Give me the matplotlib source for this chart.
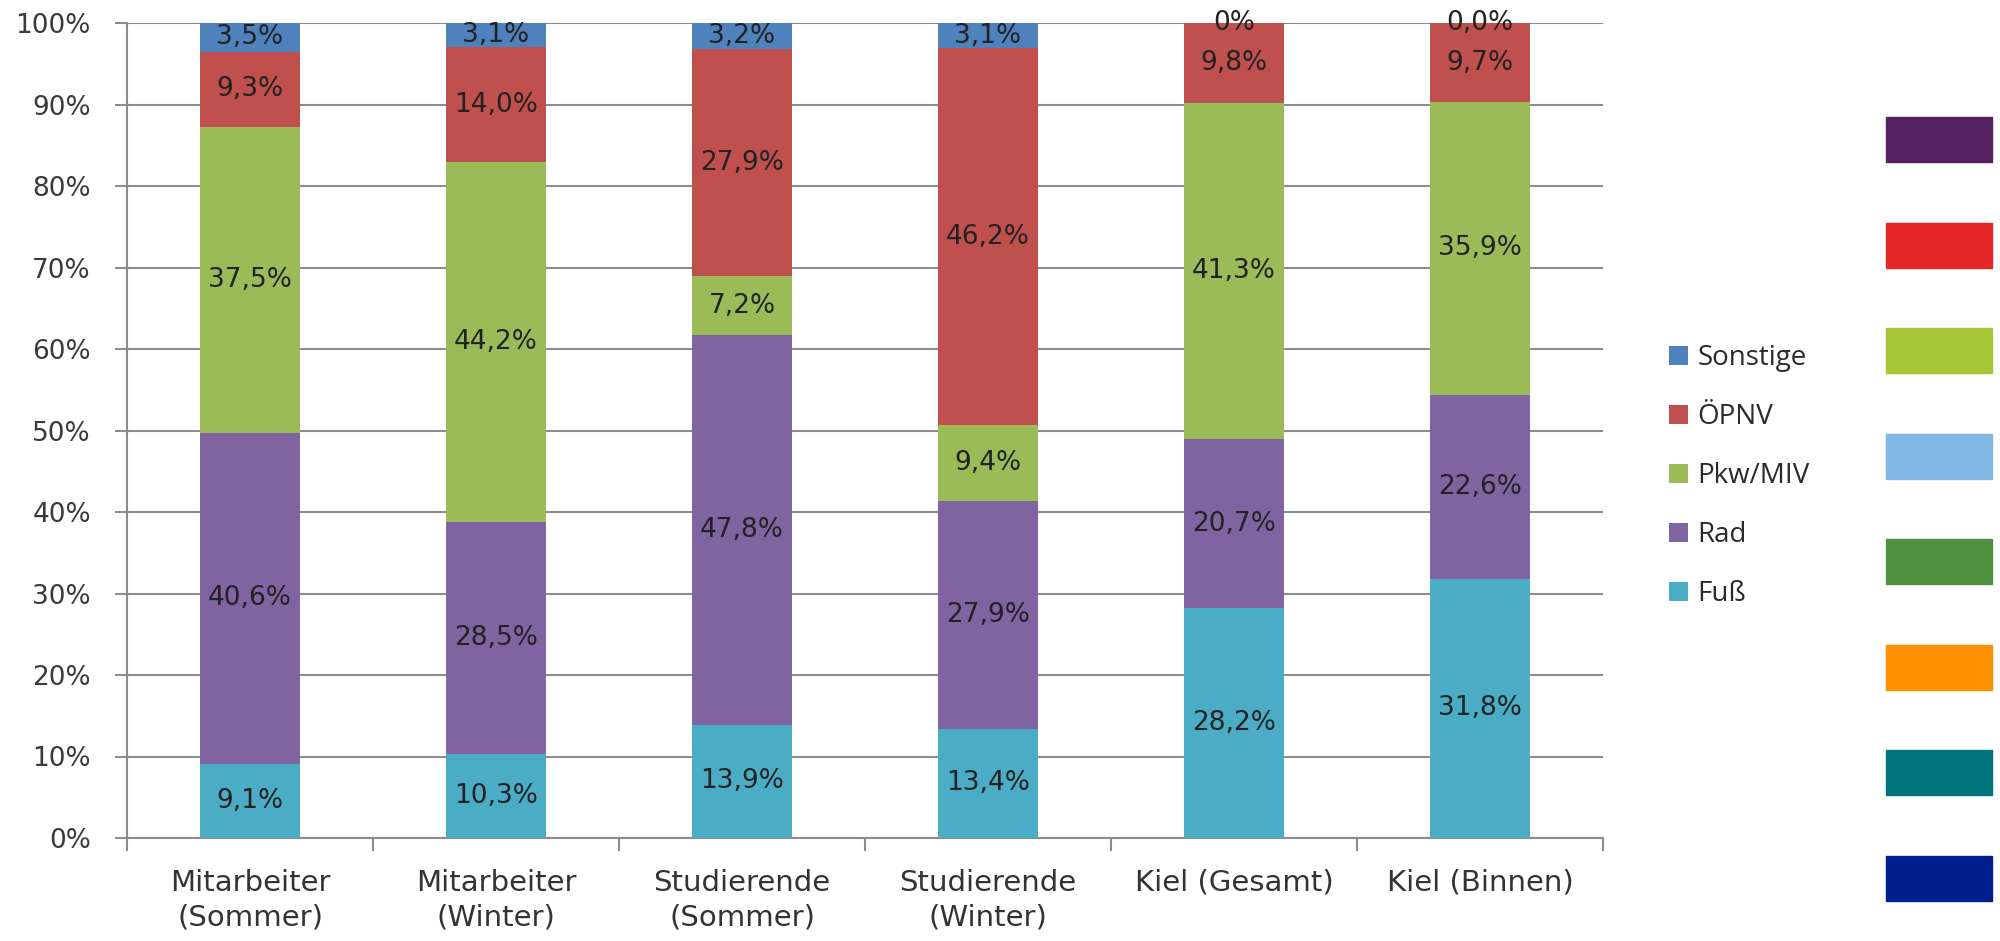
import matplotlib
matplotlib.use("Agg")
import matplotlib.pyplot as plt
from matplotlib.patches import Rectangle
import numpy as np

# Modal split by group (percent)
categories = ["Mitarbeiter\n(Sommer)", "Mitarbeiter\n(Winter)", "Studierende\n(Sommer)",
              "Studierende\n(Winter)", "Kiel (Gesamt)", "Kiel (Binnen)"]
series_names = ["Fuß", "Rad", "Pkw/MIV", "ÖPNV", "Sonstige"]
fuss = [9.1, 10.3, 13.9, 13.4, 28.2, 31.8]
rad = [40.6, 28.5, 47.8, 27.9, 20.7, 22.6]
pkw = [37.5, 44.2, 7.2, 9.4, 41.3, 35.9]
oepnv = [9.3, 14.0, 27.9, 46.2, 9.8, 9.7]
sonstige = [3.5, 3.1, 3.2, 3.1, 0.0, 0.0]
yticks = [0, 10, 20, 30, 40, 50, 60, 70, 80, 90, 100]

# labels printed without decimals
short_labels = {("Sonstige", 4): "0%"}

series_colors = ["#4BACC6", "#8064A2", "#9BBB59", "#C0504D", "#4F81BD"]
swatch_colors = ["#55215F", "#E32526", "#A5C636", "#80B7E3", "#4E9141",
                 "#FF9100", "#00767C", "#001F8F"]

plt.rcParams["font.family"] = ["DejaVu Sans"]

W, H = 2000, 941
fig = plt.figure(figsize=(W / 100, H / 100), dpi=100)
ax = fig.add_axes([127 / W, 1 - 838 / H, (1603 - 127) / W, (838 - 23) / H])

x = np.arange(len(categories))
data = [fuss, rad, pkw, oepnv, sonstige]
bottom = np.zeros(len(categories))
for name, vals, col in zip(series_names, data, series_colors):
    vals = np.array(vals)
    ax.bar(x, vals, width=0.41, bottom=bottom, color=col, label=name, zorder=3)
    for i, (b, v) in enumerate(zip(bottom, vals)):
        txt = short_labels.get((name, i), f"{v:.1f}".replace(".", ",") + "%")
        ax.text(i, min(b + v / 2, 100), txt, ha="center", va="center",
                fontsize=19, color="#222222", zorder=5, clip_on=False)
    bottom += vals

ax.set_xlim(-0.5, len(categories) - 0.5)
ax.set_ylim(0, 100)
ax.set_yticks(yticks)
ax.set_yticklabels([f"{t}%" for t in yticks], fontsize=19, color="#3a3a3a")
ax.yaxis.grid(True, color="#8c8c8c", linewidth=1.5, zorder=0)
ax.tick_params(axis="y", length=9, width=1.5, color="#8c8c8c", pad=17)

ax.set_xticks(x)
ax.set_xticklabels(categories, fontsize=21, color="#333333", linespacing=1.3)
ax.set_xticks(np.arange(-0.5, len(categories)), minor=True)
ax.tick_params(axis="x", which="major", length=0, pad=22)
ax.tick_params(axis="x", which="minor", length=9, width=1.5, color="#8c8c8c")

for s in ["top", "right"]:
    ax.spines[s].set_visible(False)
for s in ["left", "bottom"]:
    ax.spines[s].set_color("#8c8c8c")
    ax.spines[s].set_linewidth(1.5)

handles, labels = ax.get_legend_handles_labels()
leg = fig.legend(handles[::-1], labels[::-1], loc="upper left",
                 bbox_to_anchor=(1655 / W, 1 - 330 / H), frameon=False,
                 prop={"family": ["Open Sans", "DejaVu Sans"], "size": 20},
                 handlelength=0.68, handleheight=0.68, handletextpad=0.35,
                 labelspacing=1.12, labelcolor="#2a2a2a", borderpad=0)

# colour swatches on the right
for k, c in enumerate(swatch_colors):
    top = 117 + k * 105.5
    fig.patches.append(Rectangle((1886 / W, 1 - (top + 45) / H), 106 / W, 45 / H,
                                 transform=fig.transFigure, color=c))

fig.savefig("out.png", dpi=100)
